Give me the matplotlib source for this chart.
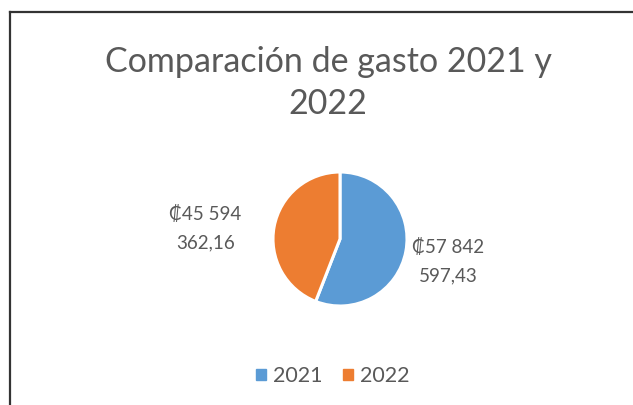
import numpy as np
import matplotlib.pyplot as plt
from matplotlib.patches import Rectangle

plt.rcParams['font.family'] = ['Lato', 'DejaVu Sans']

years = ['2021', '2022']
gasto = [57842597.43, 45594362.16]
etiquetas = ['₡57 842\n597,43', '₡45 594\n362,16']
colores = ['#5B9BD5', '#ED7D31']
texto_gris = '#595959'

W, H = 633, 405
fig = plt.figure(figsize=(W / 100, H / 100), dpi=100)

# marco del grafico (solo se ven los bordes izquierdo y superior)
fig.add_artist(plt.Line2D([10 / W, 10 / W], [0, 1 - 12 / H], color='#333333', lw=1.6))
fig.add_artist(plt.Line2D([10 / W, 1], [1 - 12 / H, 1 - 12 / H], color='#333333', lw=1.6))

fig.text(328 / W, 1 - 83 / H, 'Comparación de gasto 2021 y\n2022', ha='center', va='center',
         fontsize=24.5, color=texto_gris, linespacing=1.36)

cx, cy, r = 340, 239, 67
ax = fig.add_axes([(cx - r) / W, (H - cy - r) / H, 2 * r / W, 2 * r / H])
wedges, _ = ax.pie(gasto, colors=colores, startangle=90, counterclock=False,
                   wedgeprops=dict(edgecolor='white', linewidth=2.2))
ax.set_xlim(-1, 1)
ax.set_ylim(-1, 1)
ax.set_aspect('equal')

# distancia y giro de cada etiqueta respecto al centro de su porcion
dist = [1.65, 2.02]
giro = [-1, 6]
for w, lab, d, g in zip(wedges, etiquetas, dist, giro):
    ang = np.deg2rad((w.theta1 + w.theta2) / 2 + g)
    ax.text(d * np.cos(ang), d * np.sin(ang), lab, ha='center', va='center',
            fontsize=13.5, color=texto_gris, linespacing=1.85, clip_on=False)

handles = [Rectangle((0, 0), 1, 1, color=c) for c in colores]
fig.legend(handles, years, loc='center', bbox_to_anchor=(333 / W, 1 - 376 / H), ncol=2,
           frameon=False, fontsize=15.5, labelcolor=texto_gris, handlelength=0.45,
           handleheight=0.45, handletextpad=0.35, columnspacing=0.95)

fig.savefig('out.png', dpi=100, facecolor='white')
